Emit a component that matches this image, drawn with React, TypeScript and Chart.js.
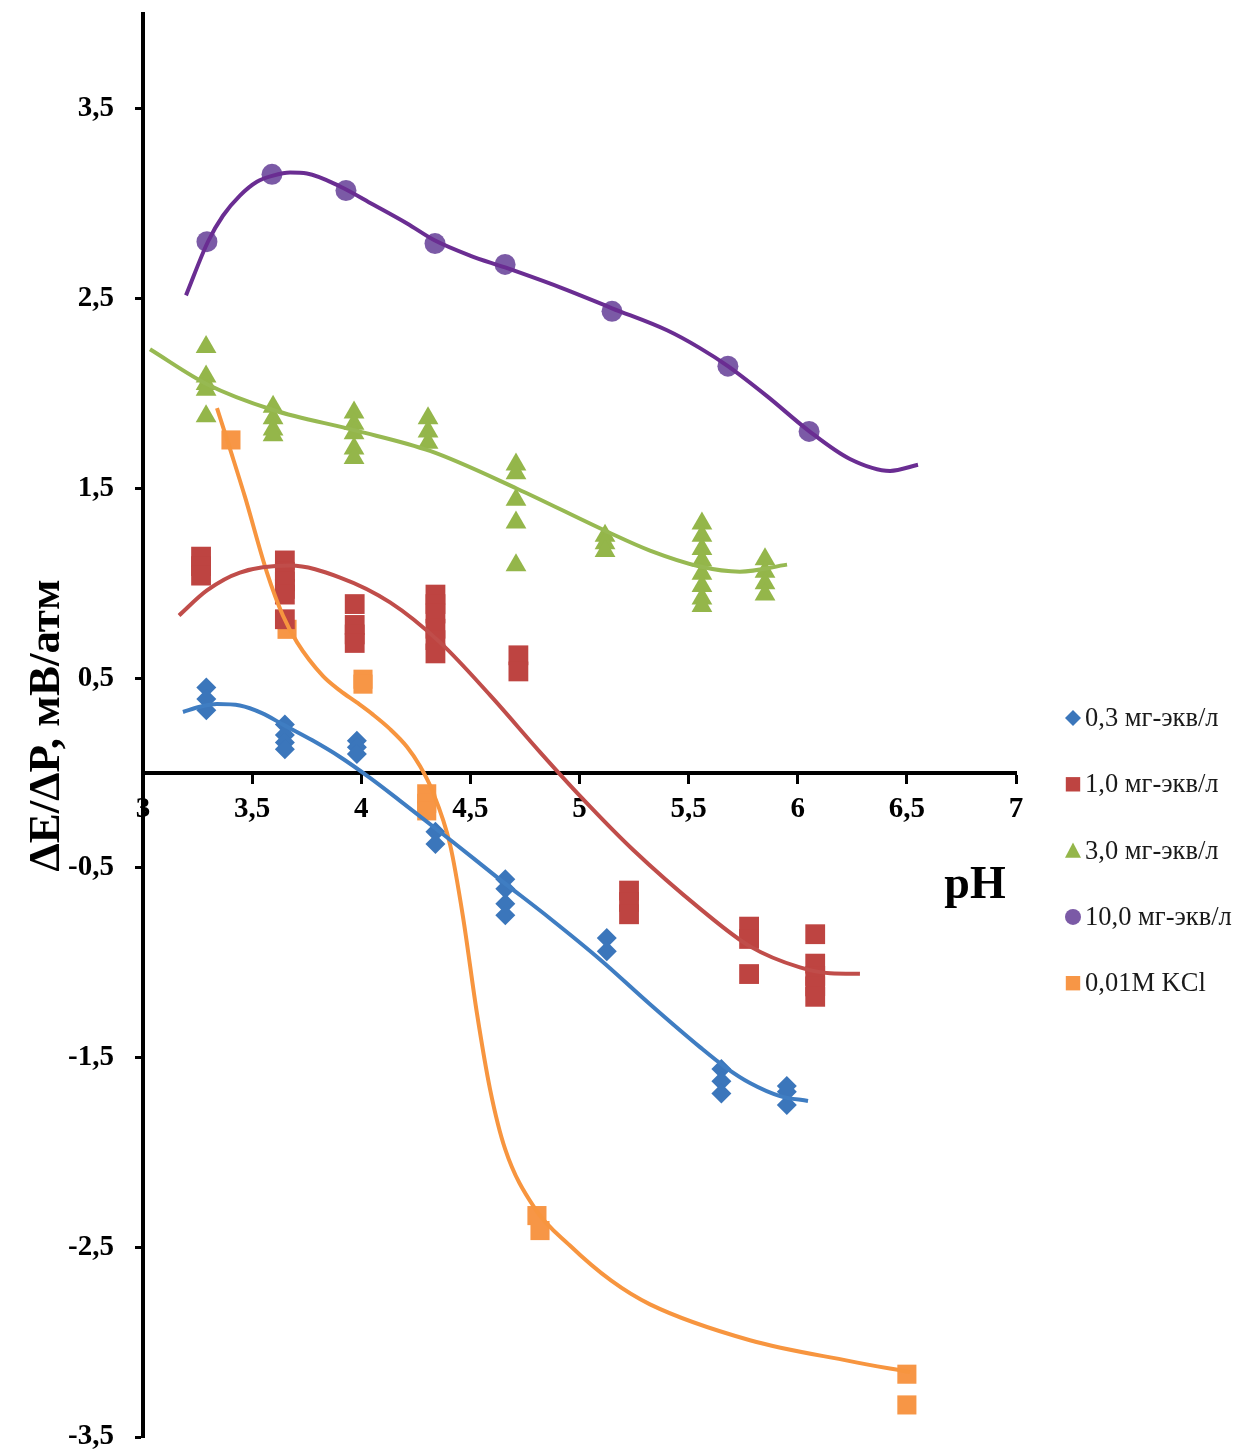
import React, { useEffect, useRef } from 'react';
import { Chart, registerables } from 'chart.js';

Chart.register(...registerables);

const FONT = "'Liberation Serif', 'Times New Roman', serif";

const xTicks = [3, 3.5, 4, 4.5, 5, 5.5, 6, 6.5, 7];
const yTicks = [-3.5, -2.5, -1.5, -0.5, 0.5, 1.5, 2.5, 3.5];

const seriesLabels = ['0,3 мг-экв/л', '1,0 мг-экв/л', '3,0 мг-экв/л', '10,0 мг-экв/л', '0,01M KCl'];
const markerColors = ['#3b76bb', '#be4441', '#94b64a', '#7b5aa6', '#f79646'];
const lineColors = ['#3f7dc2', '#c04d4a', '#97b952', '#6a2d92', '#f7953f'];
const markerStyles = ['rectRot', 'rect', 'triangle', 'circle', 'rect'];
const markerRadii = [10, 14, 12, 10.5, 13.5];

// 0,3 мг-экв/л
const s1X = [3.29, 3.29, 3.29, 3.65, 3.65, 3.65, 3.65, 3.98, 3.98, 3.98, 4.34, 4.34, 4.66, 4.66, 4.66, 4.66, 5.125, 5.125, 5.65, 5.65, 5.65, 5.95, 5.95, 5.95];
const s1Y = [0.45, 0.39, 0.33, 0.255, 0.2, 0.16, 0.125, 0.17, 0.135, 0.1, -0.31, -0.375, -0.56, -0.61, -0.69, -0.75, -0.87, -0.94, -1.56, -1.625, -1.69, -1.65, -1.68, -1.75];

// 1,0 мг-экв/л
const s2X = [3.266, 3.266, 3.266, 3.65, 3.65, 3.65, 3.65, 3.65, 3.65, 3.97, 3.97, 3.97, 3.97, 4.34, 4.34, 4.34, 4.34, 4.34, 4.34, 4.72, 4.72, 5.227, 5.227, 5.227, 5.777, 5.777, 5.777, 6.08, 6.08, 6.08, 6.08, 6.08];
const s2Y = [1.14, 1.09, 1.04, 1.12, 1.06, 1.01, 0.97, 0.94, 0.81, 0.89, 0.78, 0.73, 0.685, 0.94, 0.89, 0.84, 0.76, 0.7, 0.63, 0.62, 0.535, -0.62, -0.68, -0.745, -0.81, -0.875, -1.06, -0.85, -1.005, -1.07, -1.125, -1.18];

// 3,0 мг-экв/л
const s3X = [3.289, 3.289, 3.289, 3.289, 3.289, 3.596, 3.596, 3.596, 3.596, 3.967, 3.967, 3.967, 3.967, 3.967, 4.306, 4.306, 4.306, 4.709, 4.709, 4.709, 4.709, 4.709, 5.117, 5.117, 5.117, 5.561, 5.561, 5.561, 5.561, 5.561, 5.561, 5.561, 5.561, 5.85, 5.85, 5.85, 5.85];
const s3Y = [2.245, 2.09, 2.05, 2.02, 1.88, 1.93, 1.87, 1.81, 1.78, 1.9, 1.84, 1.79, 1.71, 1.66, 1.87, 1.8, 1.74, 1.625, 1.58, 1.44, 1.32, 1.095, 1.25, 1.21, 1.17, 1.315, 1.25, 1.18, 1.12, 1.05, 0.985, 0.92, 0.88, 1.126, 1.06, 1.0, 0.94];

// 10,0 мг-экв/л
const s4X = [3.293, 3.591, 3.93, 4.338, 4.659, 5.149, 5.68, 6.052];
const s4Y = [2.8, 3.155, 3.07, 2.79, 2.68, 2.433, 2.144, 1.8];

// 0,01M KCl
const s5X = [3.403, 3.66, 4.008, 4.008, 4.3, 4.3, 4.3, 4.805, 4.819, 6.5, 6.5];
const s5Y = [1.755, 0.757, 0.494, 0.468, -0.11, -0.16, -0.2, -2.333, -2.412, -3.169, -3.331];

// Trend lines
const t1X = [3.183, 3.261, 3.339, 3.444, 3.545, 3.646, 3.774, 3.903, 4.04, 4.178, 4.407, 4.636, 4.865, 5.094, 5.323, 5.552, 5.667, 5.781, 5.919, 6.047];
const t1Y = [0.321, 0.349, 0.363, 0.355, 0.315, 0.252, 0.173, 0.084, -0.026, -0.147, -0.352, -0.562, -0.767, -0.983, -1.219, -1.445, -1.55, -1.634, -1.703, -1.729];

const t2X = [3.165, 3.293, 3.444, 3.674, 3.903, 4.132, 4.361, 4.59, 4.819, 5.002, 5.245, 5.552, 5.781, 6.01, 6.148, 6.285];
const t2Y = [0.83, 0.962, 1.056, 1.093, 1.03, 0.899, 0.688, 0.41, 0.11, -0.121, -0.405, -0.715, -0.914, -1.025, -1.056, -1.059];

const t3X = [3.032, 3.293, 3.596, 3.981, 4.315, 4.714, 5.126, 5.323, 5.552, 5.735, 5.951];
const t3Y = [2.233, 2.049, 1.913, 1.803, 1.697, 1.498, 1.272, 1.172, 1.088, 1.061, 1.098];

const t4X = [3.197, 3.298, 3.367, 3.444, 3.522, 3.596, 3.674, 3.751, 3.903, 4.054, 4.21, 4.338, 4.498, 4.659, 4.911, 5.149, 5.401, 5.552, 5.68, 5.859, 6.052, 6.239, 6.423, 6.551];
const t4Y = [2.517, 2.801, 2.938, 3.043, 3.116, 3.148, 3.164, 3.159, 3.091, 2.996, 2.896, 2.806, 2.727, 2.664, 2.559, 2.449, 2.333, 2.239, 2.144, 1.986, 1.802, 1.655, 1.592, 1.624];

const t5X = [3.339, 3.403, 3.467, 3.568, 3.641, 3.706, 3.825, 3.903, 3.981, 4.054, 4.132, 4.21, 4.269, 4.324, 4.407, 4.466, 4.53, 4.59, 4.659, 4.796, 4.956, 5.144, 5.323, 5.781, 6.239, 6.514];
const t5Y = [1.923, 1.692, 1.456, 1.056, 0.83, 0.688, 0.51, 0.434, 0.37, 0.307, 0.231, 0.137, 0.037, -0.089, -0.378, -0.757, -1.266, -1.666, -1.981, -2.296, -2.491, -2.675, -2.801, -2.99, -3.1, -3.158];

const seriesX = [s1X, s2X, s3X, s4X, s5X];
const seriesY = [s1Y, s2Y, s3Y, s4Y, s5Y];
const trendX = [t1X, t2X, t3X, t4X, t5X];
const trendY = [t1Y, t2Y, t3Y, t4Y, t5Y];

const fmt = (v: number) => String(v).replace('.', ',');

function drawMarker(ctx: CanvasRenderingContext2D, style: string, x: number, y: number, s: number, color: string) {
  ctx.save();
  ctx.fillStyle = color;
  ctx.beginPath();
  if (style === 'rectRot') {
    ctx.moveTo(x, y - s);
    ctx.lineTo(x + s, y);
    ctx.lineTo(x, y + s);
    ctx.lineTo(x - s, y);
  } else if (style === 'rect') {
    ctx.rect(x - s * 0.9, y - s * 0.9, s * 1.8, s * 1.8);
  } else if (style === 'triangle') {
    ctx.moveTo(x, y - s);
    ctx.lineTo(x + s, y + s * 0.9);
    ctx.lineTo(x - s, y + s * 0.9);
  } else {
    ctx.arc(x, y, s, 0, Math.PI * 2);
  }
  ctx.closePath();
  ctx.fill();
  ctx.restore();
}

const overlayPlugin = {
  id: 'overlay',
  afterDraw(chart: any) {
    const ctx: CanvasRenderingContext2D = chart.ctx;
    ctx.save();
    // legend
    const legendX = 1073;
    const legendTop = 718;
    const legendGap = 66.3;
    ctx.font = `26.5px ${FONT}`;
    ctx.textBaseline = 'middle';
    ctx.textAlign = 'left';
    seriesLabels.forEach((label, i) => {
      const y = legendTop + i * legendGap;
      drawMarker(ctx, markerStyles[i], legendX, y, 8, markerColors[i]);
      ctx.fillStyle = '#1a1a1a';
      ctx.fillText(label, legendX + 12, y + 1);
    });
    // pH axis name
    ctx.font = `bold 46px ${FONT}`;
    ctx.fillStyle = '#000';
    ctx.textAlign = 'center';
    ctx.textBaseline = 'alphabetic';
    ctx.fillText('pH', 975, 898);
    ctx.restore();
  },
};

export default function App() {
  const ref = useRef<HTMLCanvasElement | null>(null);

  useEffect(() => {
    if (!ref.current) return;
    const trendSets = trendX.map((xs, i) => ({
      label: 'trend ' + seriesLabels[i],
      data: xs.map((x, j) => ({ x, y: trendY[i][j] })),
      showLine: true,
      borderColor: lineColors[i],
      backgroundColor: lineColors[i],
      borderWidth: 4,
      pointRadius: 0,
      pointHoverRadius: 0,
      cubicInterpolationMode: 'monotone',
      fill: false,
      order: 0,
    }));
    const markerSets = seriesX.map((xs, i) => ({
      label: seriesLabels[i],
      data: xs.map((x, j) => ({ x, y: seriesY[i][j] })),
      showLine: false,
      backgroundColor: markerColors[i],
      borderColor: markerColors[i],
      borderWidth: 0,
      pointStyle: markerStyles[i],
      pointRadius: markerRadii[i],
      pointHoverRadius: markerRadii[i],
      order: 1,
    }));

    const chart = new Chart(ref.current, {
      type: 'scatter',
      data: { datasets: [...trendSets, ...markerSets] as any },
      options: {
        animation: false,
        responsive: false,
        maintainAspectRatio: false,
        devicePixelRatio: 1,
        events: [],
        layout: { padding: { left: 0, right: 235, top: 10, bottom: 19 } },
        plugins: {
          legend: { display: false },
          tooltip: { enabled: false },
        },
        scales: {
          x: {
            type: 'linear',
            min: 3,
            max: 7,
            position: { y: 0 } as any,
            afterBuildTicks: (scale: any) => {
              scale.ticks = xTicks.map((v) => ({ value: v }));
            },
            afterFit: (scale: any) => {
              scale.paddingLeft = 0;
              scale.paddingRight = 0;
            },
            ticks: {
              autoSkip: false,
              maxRotation: 0,
              padding: 10,
              color: '#000',
              font: { family: FONT, size: 29, weight: 'bold' },
              callback: (v: any) => fmt(Number(v)),
            },
            grid: {
              drawOnChartArea: false,
              drawTicks: true,
              tickLength: 9,
              tickWidth: 3,
              tickColor: '#000',
              color: '#000',
            },
            border: { display: true, color: '#000', width: 4 },
          },
          y: {
            type: 'linear',
            min: -3.5,
            max: 4,
            position: 'left',
            afterBuildTicks: (scale: any) => {
              scale.ticks = yTicks.map((v) => ({ value: v }));
            },
            afterFit: (scale: any) => {
              scale.width = 143;
              scale.paddingTop = 0;
              scale.paddingBottom = 0;
            },
            ticks: {
              autoSkip: false,
              padding: 21,
              color: '#000',
              font: { family: FONT, size: 29, weight: 'bold' },
              callback: (v: any) => fmt(Number(v)),
            },
            grid: {
              drawOnChartArea: false,
              drawTicks: true,
              tickLength: 8,
              tickWidth: 3,
              tickColor: '#000',
              color: '#000',
            },
            border: { display: true, color: '#000', width: 4 },
            title: {
              display: true,
              text: 'ΔE/ΔP, мВ/атм',
              color: '#000',
              font: { family: FONT, size: 45, weight: 'bold' },
              padding: { top: 20, bottom: 0 },
            },
          },
        },
      },
      plugins: [overlayPlugin],
    });
    return () => chart.destroy();
  }, []);

  return (
    <div style={{ position: 'absolute', left: 0, top: 0, width: 1251, height: 1456, background: '#fff' }}>
      <canvas ref={ref} width={1251} height={1456} style={{ width: 1251, height: 1456, display: 'block' }} />
    </div>
  );
}
